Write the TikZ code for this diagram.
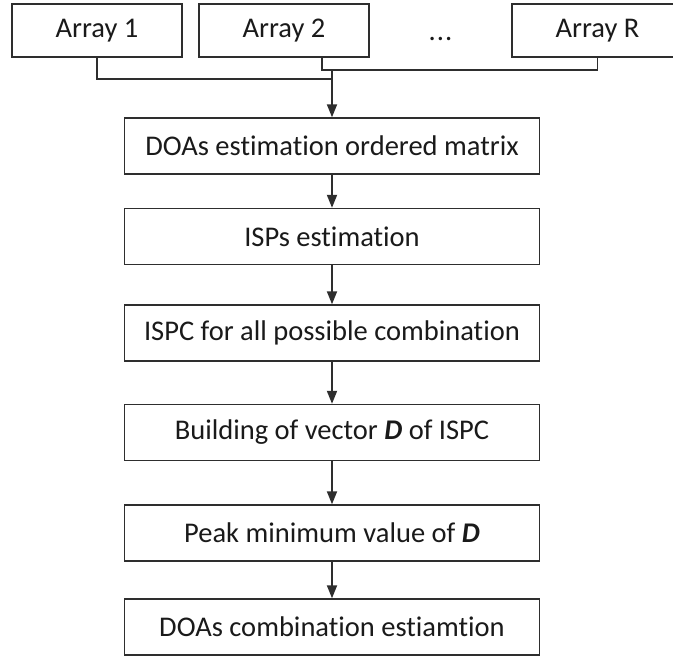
\documentclass[tikz,border=0pt]{standalone}
\usepackage{fontspec}
\setmainfont{Carlito}[RawFeature={-liga;-clig;-dlig;-calt}]
\usetikzlibrary{arrows.meta}

\definecolor{ink}{HTML}{1A1A1A}
\definecolor{edge}{HTML}{2E2E2E}

\tikzset{
  flowbox/.style={draw=edge, line width=1.4pt, fill=white, inner sep=0pt,
    minimum width=415pt, minimum height=56pt, text=ink,
    font=\fontsize{28.5}{32}\selectfont},
  arraybox/.style={draw=edge, line width=1.4pt, fill=white, inner sep=0pt,
    minimum width=170pt, minimum height=53pt, text=ink,
    font=\fontsize{28.5}{32}\selectfont},
  wire/.style={draw=edge, line width=1.8pt},
  flowarrow/.style={wire, -{Triangle[length=13pt, width=10pt]}},
}

\newcommand{\vecD}{\textbf{\textit{D}}}

\begin{document}
\begin{tikzpicture}[x=1pt, y=-1pt]
  \useasboundingbox (0,0) rectangle (673,656);

  % sensor arrays on top row
  \node[arraybox] (a1) at (97,30.5) {Array 1};
  \node[arraybox] (a2) at (284,30.5) {Array 2};
  \node[font=\fontsize{28.5}{32}\selectfont, text=ink, anchor=base]
    (dots) at (440.5,40) {.\kern1pt.\kern1pt.};
  \node[arraybox, minimum width=171pt] (aR) at (597.5,30.5) {Array R};

  % processing chain
  \node[flowbox] (b1) at (332,146)   {DOAs estimation ordered matrix};
  \node[flowbox] (b2) at (332,236.5) {ISPs estimation};
  \node[flowbox] (b3) at (332,333)   {ISPC for all possible combination};
  \node[flowbox] (b4) at (332,432.5) {Building of vector \vecD{} of ISPC};
  \node[flowbox] (b5) at (332,533)   {Peak minimum value of \vecD};
  \node[flowbox] (b6) at (332,627)   {DOAs combination estiamtion};

  % junction points of the merging bus
  \coordinate (j0) at (332,70);
  \coordinate (j1) at (332,79);
  \coordinate (j2) at (322,70);

  \draw[wire] (a1.south) |- (j1);
  \draw[wire] (a2.south -| j2) -- (j2) -| (aR.south);
  \draw[flowarrow] (j0) -- (b1.north);

  \draw[flowarrow] (b1) -- (b2);
  \draw[flowarrow] (b2) -- (b3);
  \draw[flowarrow] (b3) -- (b4);
  \draw[flowarrow] (b4) -- (b5);
  \draw[flowarrow] (b5) -- (b6);
\end{tikzpicture}
\end{document}
